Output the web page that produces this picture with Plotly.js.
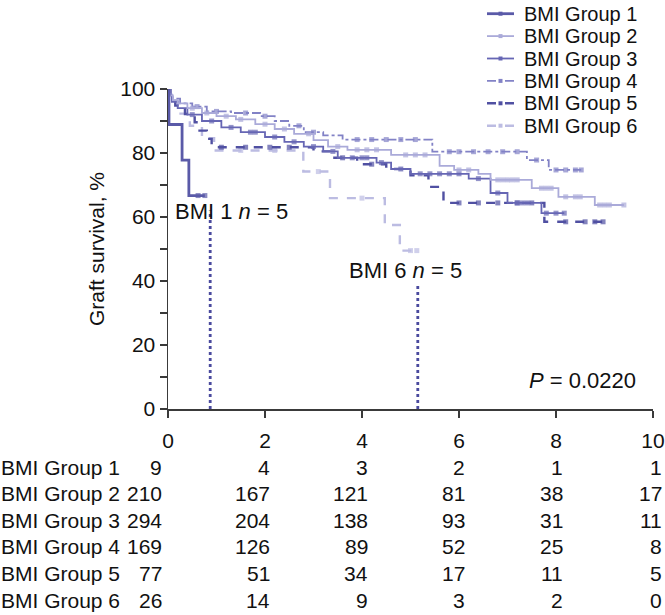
<!DOCTYPE html>
<html><head><meta charset="utf-8">
<script src="https://cdn.plot.ly/plotly-3.0.1.min.js"></script>
<style>html,body{margin:0;padding:0;background:#fff}</style>
</head><body><div id="chart" style="width:665px;height:615px"></div>
<script>
// ---------- data ----------
const groupNames = ["BMI Group 1","BMI Group 2","BMI Group 3","BMI Group 4","BMI Group 5","BMI Group 6"];

const g1Times = [0, 0.02, 0.29, 0.43];
const g1Surv  = [100, 88.9, 77.8, 66.7];
const g1End   = 0.76;
const g1Cens  = [0.62, 0.76];

const g2Times = [0, 0.03, 0.1, 0.2, 0.4, 0.7, 1.0, 1.4, 1.8, 2.2, 2.6, 3.0, 3.3, 3.7, 4.6, 5.6, 5.9, 6.4, 6.65, 7.5, 8.05, 8.8];
const g2Surv  = [100, 98, 96.5, 95.5, 94, 92.5, 91.5, 90.5, 89, 87.5, 86, 84, 82, 81, 79.4, 76, 74.7, 73.5, 71.6, 69, 66.3, 63.75];
const g2End   = 9.4;
const g2Cens  = [0.5, 0.8, 1.2, 1.5, 2.0, 2.4, 2.9, 3.5, 3.9, 4.1, 4.3, 4.9, 5.1, 5.3, 6.0, 6.2, 6.8, 6.9, 7.0, 7.1, 7.2, 7.7, 7.8, 7.9, 8.2, 8.4, 8.5, 8.9, 9.0, 9.1, 9.4];

const g3Times = [0, 0.02, 0.08, 0.2, 0.4, 0.7, 1.1, 1.5, 2.0, 2.4, 2.8, 3.2, 3.5, 4.3, 4.6, 5.0, 6.2, 6.65, 7.0, 7.7];
const g3Surv  = [100, 98, 96, 94, 92, 90, 88, 86.5, 85, 83.5, 82, 80.5, 78.5, 77, 75, 73.5, 72, 67.5, 64.4, 61.2];
const g3End   = 8.17;
const g3Cens  = [0.5, 0.9, 1.3, 1.7, 1.8, 2.2, 2.6, 3.0, 3.4, 3.8, 4.0, 4.1, 4.4, 4.8, 5.2, 5.4, 5.6, 5.8, 6.0, 6.4, 6.8, 7.2, 7.3, 7.4, 7.8, 8.0, 8.17];

const g4Times = [0, 0.03, 0.1, 0.25, 0.5, 0.8, 1.3, 1.9, 2.2, 2.5, 2.8, 3.2, 3.6, 5.45, 7.4, 7.85];
const g4Surv  = [100, 98.5, 97, 95.5, 94.5, 93, 92.5, 91.5, 90, 88.5, 86.5, 85.5, 84.2, 80.4, 77.8, 74.7];
const g4End   = 8.52;
const g4Cens  = [0.6, 1.0, 1.6, 2.0, 2.7, 3.0, 3.9, 4.2, 4.5, 4.8, 5.1, 5.8, 6.0, 6.3, 6.6, 6.9, 7.2, 7.6, 8.0, 8.2, 8.4, 8.52];

const g5Times = [0, 0.05, 0.15, 0.35, 0.55, 0.65, 0.8, 0.9, 3.0, 3.4, 3.9, 4.5, 5.0, 5.37, 5.68, 7.76];
const g5Surv  = [100, 97.4, 94.8, 92.2, 89.6, 87, 84.4, 81.8, 80.5, 78.5, 76.5, 75, 73, 69.4, 64.4, 58.5];
const g5End   = 8.97;
const g5Cens  = [1.1, 1.6, 2.1, 2.5, 3.6, 4.2, 6.0, 6.4, 6.8, 7.2, 7.5, 8.2, 8.6, 8.8, 8.97];

const g6Times = [0, 0.05, 0.2, 0.45, 0.7, 0.95, 2.79, 3.34, 4.47, 4.78];
const g6Surv  = [100, 96.2, 92.3, 88.5, 84.6, 80.8, 74.2, 65.9, 57.5, 49.5];
const g6End   = 5.13;
const g6Cens  = [1.5, 2.2, 3.1, 4.0, 5.0, 5.13];

// n = 5 cut-off markers (BMI 1 and BMI 6)
const cutoffTimes = [0.87, 5.15];
const cutoffTops  = [62, 39];

// numbers at risk
const riskTimes = [0, 2, 4, 6, 8, 10];
const risk1 = [9, 4, 3, 2, 1, 1];
const risk2 = [210, 167, 121, 81, 38, 17];
const risk3 = [294, 204, 138, 93, 31, 11];
const risk4 = [169, 126, 89, 52, 25, 8];
const risk5 = [77, 51, 34, 17, 11, 5];
const risk6 = [26, 14, 9, 3, 2, 0];

const xTicks = [0, 2, 4, 6, 8, 10];
const yTicks = [0, 20, 40, 60, 80, 100];
const pValueText = "<i>P</i> = 0.0220";

// ---------- styles ----------
const FONT = "Liberation Sans, Arial, Helvetica, sans-serif";
const FS = 21;
const LEGFS = 20;
const styles = [
  {color:"#5a5aa8", width:2.8, dash:"solid"},
  {color:"#aaaad9", width:1.8, dash:"solid"},
  {color:"#6666b4", width:1.8, dash:"solid"},
  {color:"#8282c6", width:1.8, dash:"dashdot"},
  {color:"#5050a2", width:2.4, dash:"dash"},
  {color:"#bcbce2", width:2.4, dash:"dash"}
];

const L = 168, R = 12, T = 89, B = 206, W = 665, H = 615;
const PW = W - L - R, PH = H - T - B;
const px2x = p => (p - L) / PW;
const py2y = p => (H - B - p) / PH;

function stepAt(times, surv, t) {
  let v = surv[0];
  for (let i = 0; i < times.length; i++) if (times[i] <= t) v = surv[i];
  return v;
}
function curveTrace(times, surv, end, cens, st, name) {
  const pts = times.map((t, i) => ({x: t, y: surv[i], s: 0}));
  cens.forEach(c => pts.push({x: c, y: stepAt(times, surv, c), s: 5}));
  if (!cens.includes(end)) pts.push({x: end, y: surv[surv.length - 1], s: 0});
  pts.sort((a, b) => a.x - b.x);
  return {
    type: "scatter", mode: "lines+markers", name: name, showlegend: false,
    x: pts.map(p => p.x), y: pts.map(p => p.y),
    line: {shape: "hv", color: st.color, width: st.width, dash: st.dash},
    marker: {symbol: "square", size: pts.map(p => p.s), color: st.color, line: {width: 0}},
    hoverinfo: "x+y+name"
  };
}

const groups = [
  [g1Times, g1Surv, g1End, g1Cens],
  [g2Times, g2Surv, g2End, g2Cens],
  [g3Times, g3Surv, g3End, g3Cens],
  [g4Times, g4Surv, g4End, g4Cens],
  [g5Times, g5Surv, g5End, g5Cens],
  [g6Times, g6Surv, g6End, g6Cens]
];
const drawOrder = [5, 4, 3, 2, 1, 0];
const traces = [];
cutoffTimes.forEach((t, i) => traces.push({
  type: "scatter", mode: "lines", showlegend: false, hoverinfo: "skip",
  x: [t, t], y: [0, cutoffTops[i]],
  line: {color: "#4a4a9e", width: 2.8, dash: "dot"}
}));
drawOrder.forEach(k => {
  const g = groups[k];
  traces.push(curveTrace(g[0], g[1], g[2], g[3], styles[k], groupNames[k]));
});

// ---------- annotations ----------
const ann = [];
const txt = (text, x, y, xref, yref, xanchor, size, extra) => Object.assign({
  text: text, x: x, y: y, xref: xref, yref: yref, xanchor: xanchor, yanchor: "middle",
  showarrow: false, borderpad: 0, font: {family: FONT, size: size, color: "#111"}
}, extra || {});

ann.push(txt("BMI 1 <i>n</i> = 5", 0.12, 61.6, "x", "y", "left", 22));
ann.push(txt("BMI 6 <i>n</i> = 5", 3.72, 43.4, "x", "y", "left", 22));
ann.push(txt(pValueText, 7.42, 9, "x", "y", "left", 22));

// legend (drawn manually)
const shapes = [];
const legY0 = 13.7, legDY = 22.4;
groupNames.forEach((n, i) => {
  const yy = py2y(legY0 + legDY * i);
  ann.push(txt(n, px2x(523), yy, "paper", "paper", "left", LEGFS));
  shapes.push({type: "line", xref: "paper", yref: "paper",
    x0: px2x(487), x1: px2x(514), y0: yy, y1: yy,
    line: {color: styles[i].color, width: styles[i].width, dash: styles[i].dash}});
  shapes.push({type: "rect", xref: "paper", yref: "paper",
    x0: px2x(498.5), x1: px2x(502.5), y0: yy - 2 / PH, y1: yy + 2 / PH,
    fillcolor: styles[i].color, line: {width: 0}});
});

// risk table
const riskRows = [risk1, risk2, risk3, risk4, risk5, risk6];
const rowY0 = 467, rowDY = 26.6;
const colShift = [-5, 6, 7, 7, 8, 10];
riskRows.forEach((row, r) => {
  const yy = py2y(rowY0 + rowDY * r);
  ann.push(txt(groupNames[r], px2x(0), yy, "paper", "paper", "left", FS));
  row.forEach((v, c) => ann.push(txt(String(v), riskTimes[c], yy, "x", "paper", "right", FS, {xshift: colShift[c]})));
});

const layout = {
  width: W, height: H,
  margin: {l: L, r: R, t: T, b: B, pad: 0},
  paper_bgcolor: "#fff", plot_bgcolor: "#fff",
  font: {family: FONT, size: FS, color: "#111"},
  showlegend: false,
  xaxis: {
    range: [0, 10], tickvals: xTicks, ticktext: xTicks.map(String),
    showgrid: false, zeroline: false, showline: true, linecolor: "#3a3a3a", linewidth: 1.5,
    ticks: "outside", ticklen: 7, tickwidth: 1.5, tickcolor: "#3a3a3a",
    ticklabelstandoff: 5, ticklabeloverflow: "allow",
    tickfont: {family: FONT, size: FS, color: "#111"}
  },
  yaxis: {
    range: [0, 100], tickvals: yTicks, ticktext: yTicks.map(String),
    showgrid: false, zeroline: false, showline: true, linecolor: "#3a3a3a", linewidth: 1.5,
    ticks: "outside", ticklen: 7, tickwidth: 1.5, tickcolor: "#3a3a3a",
    minor: {dtick: 10, tick0: 0, ticks: "outside", ticklen: 7, tickwidth: 1.5, tickcolor: "#3a3a3a", showgrid: false},
    tickfont: {family: FONT, size: FS, color: "#111"},
    title: {text: "Graft survival, %", font: {family: FONT, size: FS, color: "#111"}, standoff: 10}
  },
  annotations: ann,
  shapes: shapes
};

Plotly.newPlot("chart", traces, layout, {displayModeBar: false, staticPlot: true});
</script>
</body></html>
